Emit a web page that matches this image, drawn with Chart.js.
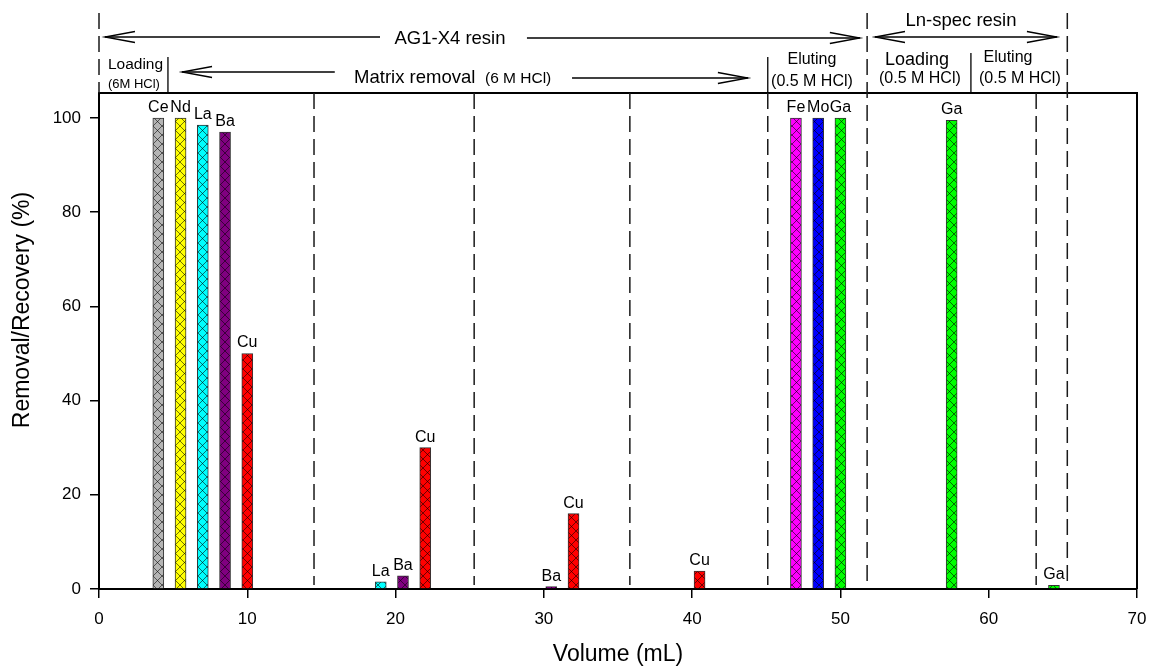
<!DOCTYPE html>
<html><head><meta charset="utf-8">
<script src="https://cdn.jsdelivr.net/npm/chart.js@4/dist/chart.umd.min.js"></script>
<style>html,body{margin:0;padding:0;background:#fff;}#wrap{width:1149px;height:666px;}</style>
</head><body><div id="wrap"><canvas id="c" width="1149" height="666"></canvas></div>
<script>
// ---- data ----
const elements = ['Ce','Nd','La','Ba','Cu','La','Ba','Cu','Ba','Cu','Cu','Fe','Mo','Ga','Ga','Ga'];
const volumes  = [4, 5.5, 7, 8.5, 10, 19, 20.5, 22, 30.5, 32, 40.5, 47, 48.5, 50, 57.5, 64.4];
const values   = [100, 100, 98.5, 97, 50, 1.5, 2.8, 30, 0.5, 16, 3.8, 100, 100, 100, 99.5, 0.8];
const elementColors = {Ce:'#b4b4b4', Nd:'#ffff00', La:'#00ffff', Ba:'#800080', Cu:'#ff0000', Fe:'#ff00ff', Mo:'#0000ff', Ga:'#00ff00'};
const innerDividers = [14.5, 25.3, 35.8, 45.1, 63.2];
const outerDividers = [0, 51.8, 65.3];
const xTickValues = [0, 10, 20, 30, 40, 50, 60, 70];
const yTickValues = [0, 20, 40, 60, 80, 100];
const yTitle = 'Removal/Recovery (%)';

const FONT = '"Liberation Sans", Arial, sans-serif';

function hatch(color) {
  const s = 9;
  const c = document.createElement('canvas');
  c.width = s; c.height = s;
  const g = c.getContext('2d');
  g.fillStyle = color; g.fillRect(0, 0, s, s);
  g.strokeStyle = 'rgba(0,0,0,0.8)'; g.lineWidth = 0.7;
  g.beginPath();
  g.moveTo(-1, -1); g.lineTo(s + 1, s + 1);
  g.moveTo(s + 1, -1); g.lineTo(-1, s + 1);
  g.stroke();
  return g.createPattern(c, 'repeat');
}

const points = volumes.map((v, i) => ({x: v, y: values[i]}));
const fills = elements.map(e => hatch(elementColors[e]));

const framePlugin = {
  id: 'frame',
  afterDraw(chart) {
    const {ctx, chartArea: a} = chart;
    const xs = chart.scales.x;
    const X = v => xs.getPixelForValue(v);
    ctx.save();
    ctx.strokeStyle = '#000';
    ctx.lineWidth = 2;
    ctx.beginPath();
    ctx.moveTo(a.left, a.top); ctx.lineTo(a.right, a.top); ctx.lineTo(a.right, a.bottom);
    ctx.stroke();
    // dashed dividers
    ctx.lineWidth = 1.5;
    ctx.strokeStyle = '#1a1a1a';
    ctx.setLineDash([16, 7]);
    innerDividers.forEach(v => {
      ctx.beginPath(); ctx.moveTo(X(v), a.top); ctx.lineTo(X(v), a.bottom - 4); ctx.stroke();
    });
    outerDividers.forEach(v => {
      ctx.beginPath(); ctx.moveTo(X(v), 13); ctx.lineTo(X(v), v === 0 ? a.top : a.bottom - 4); ctx.stroke();
    });
    ctx.setLineDash([]);
    // solid separators above plot
    ctx.lineWidth = 1.3;
    ctx.strokeStyle = '#000';
    [[4.65, 57], [45.1, 57], [58.8, 53]].forEach(([v, y0]) => {
      ctx.beginPath(); ctx.moveTo(X(v), y0); ctx.lineTo(X(v), a.top); ctx.stroke();
    });
    // arrows
    function arrow(x1, x2, y, headAt1, headAt2) {
      ctx.beginPath(); ctx.moveTo(x1, y); ctx.lineTo(x2, y); ctx.stroke();
      const L = 30, H = 5.5;
      if (headAt1) { ctx.beginPath(); ctx.moveTo(x1 + L, y - H); ctx.lineTo(x1, y); ctx.lineTo(x1 + L, y + H); ctx.stroke(); }
      if (headAt2) { ctx.beginPath(); ctx.moveTo(x2 - L, y - H); ctx.lineTo(x2, y); ctx.lineTo(x2 - L, y + H); ctx.stroke(); }
    }
    ctx.lineWidth = 1.3;
    arrow(X(0.4), X(18.95), 37, true, false);
    arrow(X(28.86), X(51.31), 38, false, true);
    arrow(X(5.6), X(15.9), 72, true, false);
    arrow(X(31.9), X(43.76), 78, false, true);
    arrow(X(52.33), X(64.6), 37, true, true);
    // texts
    ctx.fillStyle = '#000';
    ctx.textBaseline = 'alphabetic';
    function txt(s, x, y, size, align) {
      ctx.font = size + 'px ' + FONT; ctx.textAlign = align || 'center'; ctx.fillText(s, x, y);
    }
    txt('AG1-X4 resin', X(23.67), 44, 18.5);
    txt('Ln-spec resin', X(58.13), 26, 18.5);
    txt('Loading', X(0.6), 69, 15.5, 'left');
    txt('(6M HCl)', X(0.6), 88, 13, 'left');
    txt('Matrix removal', X(17.2), 83, 18.5, 'left');
    txt('(6 M HCl)', X(26.03), 83, 15.5, 'left');
    txt('Eluting', X(48.08), 64, 16);
    txt('(0.5 M HCl)', X(48.08), 86, 16);
    txt('Loading', X(55.16), 65, 18);
    txt('(0.5 M HCl)', X(55.36), 83, 16);
    txt('Eluting', X(61.3), 62, 16);
    txt('(0.5 M HCl)', X(62.1), 83, 16);
    // y axis title
    ctx.save();
    ctx.translate(23, 310);
    ctx.rotate(-Math.PI / 2);
    ctx.font = '23px ' + FONT; ctx.textAlign = 'center'; ctx.textBaseline = 'middle';
    ctx.fillText(yTitle, 0, 0);
    ctx.restore();
    ctx.restore();
  }
};

const labelPlugin = {
  id: 'barLabels',
  afterDatasetsDraw(chart) {
    const {ctx} = chart;
    const meta = chart.getDatasetMeta(0);
    ctx.save();
    ctx.font = '16px ' + FONT;
    ctx.fillStyle = '#000';
    ctx.textAlign = 'center';
    ctx.textBaseline = 'alphabetic';
    meta.data.forEach((bar, i) => {
      ctx.fillText(elements[i], bar.x, bar.y - 6);
    });
    ctx.restore();
  }
};

new Chart(document.getElementById('c'), {
  type: 'bar',
  data: {
    datasets: [{
      data: points,
      backgroundColor: fills,
      borderColor: '#333',
      borderWidth: 1,
      barThickness: 11,
      grouped: false
    }]
  },
  options: {
    responsive: false,
    animation: false,
    devicePixelRatio: 1,
    layout: {padding: {top: 93, right: 12, left: 0, bottom: 0}},
    plugins: {legend: {display: false}, tooltip: {enabled: false}},
    scales: {
      x: {
        type: 'linear', min: 0, max: 70, offset: false,
        afterBuildTicks: s => { s.ticks = xTickValues.map(v => ({value: v})); },
        afterFit: s => { s.height = 77; s.paddingLeft = 0; s.paddingRight = 0; },
        ticks: {color: '#000', font: {family: FONT, size: 17}, padding: 11},
        grid: {offset: false, drawOnChartArea: false, drawTicks: true, tickLength: 9, color: '#000', lineWidth: 1.5},
        border: {color: '#000', width: 2},
        title: {display: true, text: 'Volume (mL)', color: '#000', font: {family: FONT, size: 23, lineHeight: 1}, padding: {top: 0, bottom: 0}}
      },
      y: {
        min: 0, max: 105.3,
        afterBuildTicks: s => { s.ticks = yTickValues.map(v => ({value: v})); },
        afterFit: s => { s.width = 99; s.paddingTop = 0; s.paddingBottom = 0; },
        ticks: {color: '#000', font: {family: FONT, size: 17}, padding: 9},
        grid: {drawOnChartArea: false, drawTicks: true, tickLength: 9, color: '#000', lineWidth: 1.5},
        border: {color: '#000', width: 2},
        title: {display: false}
      }
    }
  },
  plugins: [framePlugin, labelPlugin]
});
</script></body></html>
